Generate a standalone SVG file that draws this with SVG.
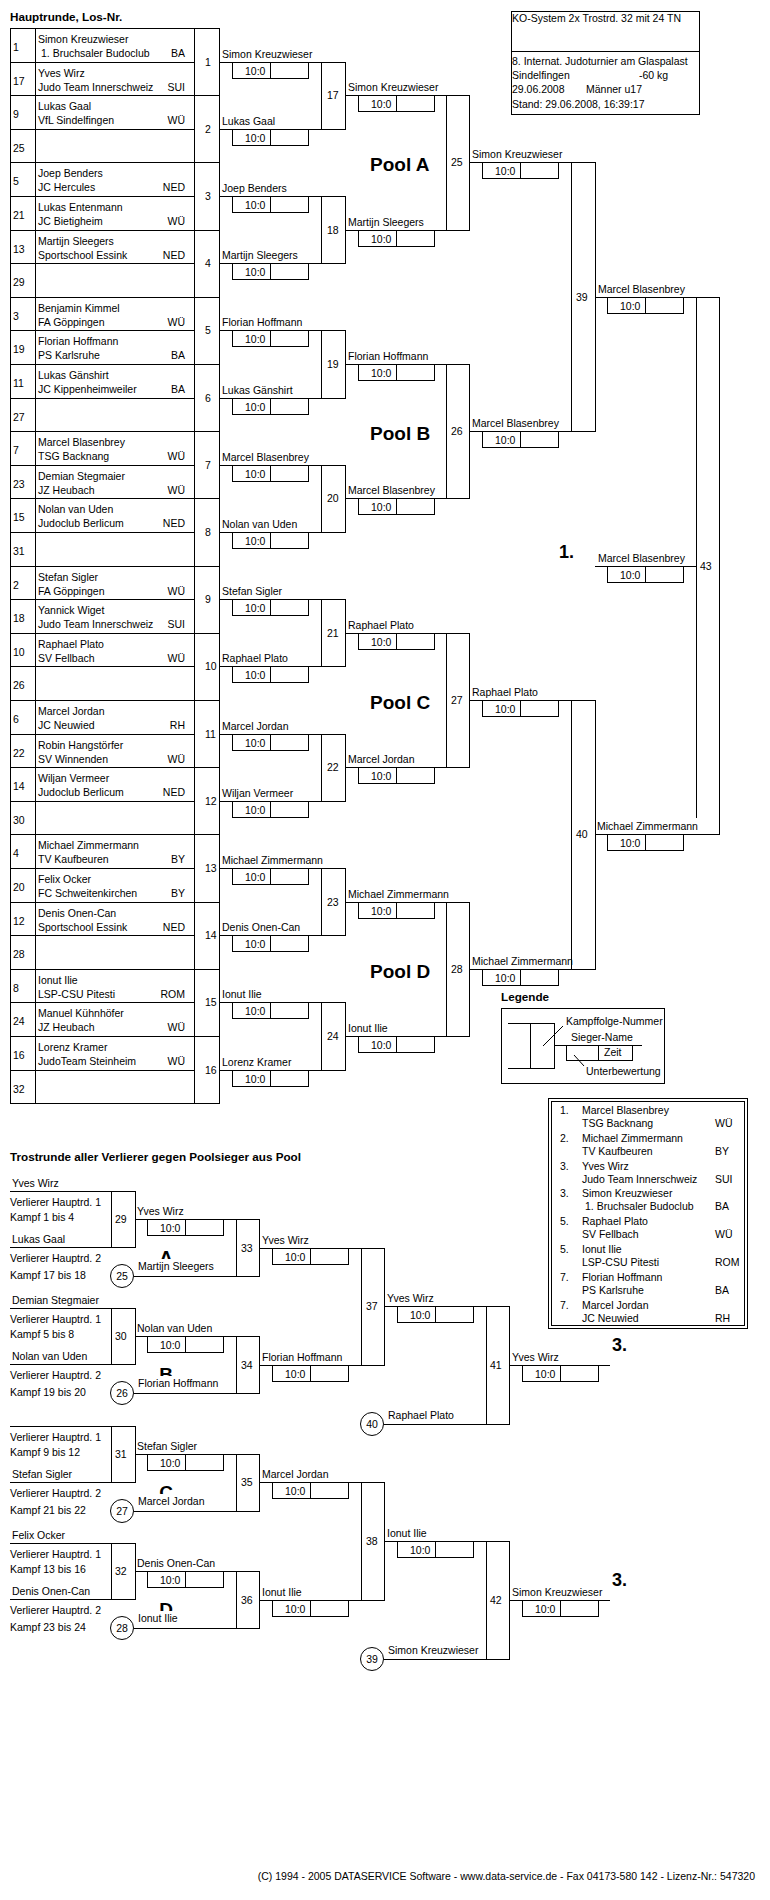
<svg xmlns="http://www.w3.org/2000/svg" xmlns:xlink="http://www.w3.org/1999/xlink" width="770" height="1900" viewBox="0 0 770 1900">
<style>
text{font-family:"Liberation Sans",Arial,Helvetica,sans-serif;font-size:10.5px;fill:#000}
.h{font-size:11.7px;font-weight:bold}
.pool{font-size:19px;font-weight:bold}
.big{font-size:18px;font-weight:bold}
.let{font-size:19px;font-weight:bold}
.c{text-anchor:middle}
.r{text-anchor:end}
.ln{stroke:#000;stroke-width:1;fill:none;shape-rendering:crispEdges}
.ci{stroke:#000;stroke-width:1;fill:#fff}
</style>
<defs>
<g id="sc"><rect class="ln" x="0" y="0" width="76" height="16"/><path class="ln" d="M38 0V16"/><text x="13" y="13">10:0</text></g>
<g id="sc2"><rect class="ln" x="0" y="0" width="66" height="15"/><path class="ln" d="M32 0V15"/></g>
<clipPath id="clipL" clipPathUnits="userSpaceOnUse"><rect x="140" y="40" width="60" height="28"/></clipPath>
</defs>
<rect width="770" height="1900" fill="#fff"/>

<text class="h" x="10" y="21">Hauptrunde, Los-Nr.</text>

<g id="header">
<rect class="ln" x="511" y="11" width="188" height="103"/>
<path class="ln" d="M511 51H699"/>
<text x="512" y="22">KO-System 2x Trostrd. 32 mit 24 TN</text>
<text x="512" y="65">8. Internat. Judoturnier am Glaspalast</text>
<text x="512" y="79">Sindelfingen</text>
<text x="639" y="79">-60 kg</text>
<text x="512" y="93">29.06.2008<tspan x="586">Männer u17</tspan></text>
<text x="512" y="108">Stand: 29.06.2008, 16:39:17</text>
</g>

<g id="draw-table">
<rect class="ln" x="10" y="28" width="209" height="1075"/>
<path class="ln" d="M35 28V1103M194 28V1103"/>
<path class="ln" d="M10 62H194M10 95H219M10 129H194M10 162H219M10 196H194M10 230H219M10 263H194M10 297H219M10 330H194M10 364H219M10 398H194M10 431H219M10 465H194M10 498H219M10 532H194M10 566H219M10 599H194M10 633H219M10 666H194M10 700H219M10 734H194M10 767H219M10 801H194M10 834H219M10 868H194M10 902H219M10 935H194M10 969H219M10 1002H194M10 1036H219M10 1070H194"/>
</g>

<g id="p1" transform="translate(0,28)"><text x="13" y="23">1</text><text x="38" y="15">Simon Kreuzwieser</text><text x="41" y="29">1. Bruchsaler Budoclub</text><text class="r" x="185" y="29">BA</text></g>
<g id="p17" transform="translate(0,61.6)"><text x="13" y="23">17</text><text x="38" y="15">Yves Wirz</text><text x="38" y="29">Judo Team Innerschweiz</text><text class="r" x="185" y="29">SUI</text></g>
<g id="p9" transform="translate(0,95.2)"><text x="13" y="23">9</text><text x="38" y="15">Lukas Gaal</text><text x="38" y="29">VfL Sindelfingen</text><text class="r" x="185" y="29">WÜ</text></g>
<g id="p25" transform="translate(0,128.8)"><text x="13" y="23">25</text></g>
<g id="p5" transform="translate(0,162.4)"><text x="13" y="23">5</text><text x="38" y="15">Joep Benders</text><text x="38" y="29">JC Hercules</text><text class="r" x="185" y="29">NED</text></g>
<g id="p21" transform="translate(0,196)"><text x="13" y="23">21</text><text x="38" y="15">Lukas Entenmann</text><text x="38" y="29">JC Bietigheim</text><text class="r" x="185" y="29">WÜ</text></g>
<g id="p13" transform="translate(0,229.6)"><text x="13" y="23">13</text><text x="38" y="15">Martijn Sleegers</text><text x="38" y="29">Sportschool Essink</text><text class="r" x="185" y="29">NED</text></g>
<g id="p29" transform="translate(0,263.2)"><text x="13" y="23">29</text></g>
<g id="p3" transform="translate(0,296.8)"><text x="13" y="23">3</text><text x="38" y="15">Benjamin Kimmel</text><text x="38" y="29">FA Göppingen</text><text class="r" x="185" y="29">WÜ</text></g>
<g id="p19" transform="translate(0,330.4)"><text x="13" y="23">19</text><text x="38" y="15">Florian Hoffmann</text><text x="38" y="29">PS Karlsruhe</text><text class="r" x="185" y="29">BA</text></g>
<g id="p11" transform="translate(0,364)"><text x="13" y="23">11</text><text x="38" y="15">Lukas Gänshirt</text><text x="38" y="29">JC Kippenheimweiler</text><text class="r" x="185" y="29">BA</text></g>
<g id="p27" transform="translate(0,397.6)"><text x="13" y="23">27</text></g>
<g id="p7" transform="translate(0,431.2)"><text x="13" y="23">7</text><text x="38" y="15">Marcel Blasenbrey</text><text x="38" y="29">TSG Backnang</text><text class="r" x="185" y="29">WÜ</text></g>
<g id="p23" transform="translate(0,464.8)"><text x="13" y="23">23</text><text x="38" y="15">Demian Stegmaier</text><text x="38" y="29">JZ Heubach</text><text class="r" x="185" y="29">WÜ</text></g>
<g id="p15" transform="translate(0,498.4)"><text x="13" y="23">15</text><text x="38" y="15">Nolan van Uden</text><text x="38" y="29">Judoclub Berlicum</text><text class="r" x="185" y="29">NED</text></g>
<g id="p31" transform="translate(0,532)"><text x="13" y="23">31</text></g>
<g id="p2" transform="translate(0,565.6)"><text x="13" y="23">2</text><text x="38" y="15">Stefan Sigler</text><text x="38" y="29">FA Göppingen</text><text class="r" x="185" y="29">WÜ</text></g>
<g id="p18" transform="translate(0,599.2)"><text x="13" y="23">18</text><text x="38" y="15">Yannick Wiget</text><text x="38" y="29">Judo Team Innerschweiz</text><text class="r" x="185" y="29">SUI</text></g>
<g id="p10" transform="translate(0,632.8)"><text x="13" y="23">10</text><text x="38" y="15">Raphael Plato</text><text x="38" y="29">SV Fellbach</text><text class="r" x="185" y="29">WÜ</text></g>
<g id="p26" transform="translate(0,666.4)"><text x="13" y="23">26</text></g>
<g id="p6" transform="translate(0,700)"><text x="13" y="23">6</text><text x="38" y="15">Marcel Jordan</text><text x="38" y="29">JC Neuwied</text><text class="r" x="185" y="29">RH</text></g>
<g id="p22" transform="translate(0,733.6)"><text x="13" y="23">22</text><text x="38" y="15">Robin Hangstörfer</text><text x="38" y="29">SV Winnenden</text><text class="r" x="185" y="29">WÜ</text></g>
<g id="p14" transform="translate(0,767.2)"><text x="13" y="23">14</text><text x="38" y="15">Wiljan Vermeer</text><text x="38" y="29">Judoclub Berlicum</text><text class="r" x="185" y="29">NED</text></g>
<g id="p30" transform="translate(0,800.8)"><text x="13" y="23">30</text></g>
<g id="p4" transform="translate(0,834.4)"><text x="13" y="23">4</text><text x="38" y="15">Michael Zimmermann</text><text x="38" y="29">TV Kaufbeuren</text><text class="r" x="185" y="29">BY</text></g>
<g id="p20" transform="translate(0,868)"><text x="13" y="23">20</text><text x="38" y="15">Felix Ocker</text><text x="38" y="29">FC Schweitenkirchen</text><text class="r" x="185" y="29">BY</text></g>
<g id="p12" transform="translate(0,901.6)"><text x="13" y="23">12</text><text x="38" y="15">Denis Onen-Can</text><text x="38" y="29">Sportschool Essink</text><text class="r" x="185" y="29">NED</text></g>
<g id="p28" transform="translate(0,935.2)"><text x="13" y="23">28</text></g>
<g id="p8" transform="translate(0,968.8)"><text x="13" y="23">8</text><text x="38" y="15">Ionut Ilie</text><text x="38" y="29">LSP-CSU Pitesti</text><text class="r" x="185" y="29">ROM</text></g>
<g id="p24" transform="translate(0,1002.4)"><text x="13" y="23">24</text><text x="38" y="15">Manuel Kühnhöfer</text><text x="38" y="29">JZ Heubach</text><text class="r" x="185" y="29">WÜ</text></g>
<g id="p16" transform="translate(0,1036)"><text x="13" y="23">16</text><text x="38" y="15">Lorenz Kramer</text><text x="38" y="29">JudoTeam Steinheim</text><text class="r" x="185" y="29">WÜ</text></g>
<g id="p32" transform="translate(0,1069.6)"><text x="13" y="23">32</text></g>

<g id="connectors" class="ln">
<path d="M219 62H321M219 129H321M219 196H321M219 263H321M219 330H321M219 398H321M219 465H321M219 532H321M219 599H321M219 666H321M219 734H321M219 801H321M219 868H321M219 935H321M219 1002H321M219 1070H321"/>
<path d="M345 95H446M345 230H446M345 364H446M345 498H446M345 633H446M345 767H446M345 902H446M345 1036H446"/>
<path d="M469 162H571M469 431H571M469 700H571M469 969H571"/>
<path d="M595 297H696M595 834H696M595 566H696"/>
<path d="M135 1219H236M133.5 1276H236M135 1336H236M133.5 1393H236M135 1454H236M133.5 1511H236M135 1571H236M133.5 1628H236"/>
<path d="M259 1248H361M259 1365H361M259 1482H361M259 1600H361"/>
<path d="M384 1306H486M384 1541H486M383.5 1424H486M383.5 1659H486"/>
<path d="M509 1365H610M509 1600H610"/>
</g>

<g id="m1"><text x="205" y="66">1</text><g transform="translate(219,62)"><text x="3" y="-4">Simon Kreuzwieser</text><use xlink:href="#sc" x="13"/></g></g>
<g id="m2"><text x="205" y="133">2</text><g transform="translate(219,129)"><text x="3" y="-4">Lukas Gaal</text><use xlink:href="#sc" x="13"/></g></g>
<g id="m3"><text x="205" y="200">3</text><g transform="translate(219,196)"><text x="3" y="-4">Joep Benders</text><use xlink:href="#sc" x="13"/></g></g>
<g id="m4"><text x="205" y="267">4</text><g transform="translate(219,263)"><text x="3" y="-4">Martijn Sleegers</text><use xlink:href="#sc" x="13"/></g></g>
<g id="m5"><text x="205" y="334">5</text><g transform="translate(219,330)"><text x="3" y="-4">Florian Hoffmann</text><use xlink:href="#sc" x="13"/></g></g>
<g id="m6"><text x="205" y="402">6</text><g transform="translate(219,398)"><text x="3" y="-4">Lukas Gänshirt</text><use xlink:href="#sc" x="13"/></g></g>
<g id="m7"><text x="205" y="469">7</text><g transform="translate(219,465)"><text x="3" y="-4">Marcel Blasenbrey</text><use xlink:href="#sc" x="13"/></g></g>
<g id="m8"><text x="205" y="536">8</text><g transform="translate(219,532)"><text x="3" y="-4">Nolan van Uden</text><use xlink:href="#sc" x="13"/></g></g>
<g id="m9"><text x="205" y="603">9</text><g transform="translate(219,599)"><text x="3" y="-4">Stefan Sigler</text><use xlink:href="#sc" x="13"/></g></g>
<g id="m10"><text x="205" y="670">10</text><g transform="translate(219,666)"><text x="3" y="-4">Raphael Plato</text><use xlink:href="#sc" x="13"/></g></g>
<g id="m11"><text x="205" y="738">11</text><g transform="translate(219,734)"><text x="3" y="-4">Marcel Jordan</text><use xlink:href="#sc" x="13"/></g></g>
<g id="m12"><text x="205" y="805">12</text><g transform="translate(219,801)"><text x="3" y="-4">Wiljan Vermeer</text><use xlink:href="#sc" x="13"/></g></g>
<g id="m13"><text x="205" y="872">13</text><g transform="translate(219,868)"><text x="3" y="-4">Michael Zimmermann</text><use xlink:href="#sc" x="13"/></g></g>
<g id="m14"><text x="205" y="939">14</text><g transform="translate(219,935)"><text x="3" y="-4">Denis Onen-Can</text><use xlink:href="#sc" x="13"/></g></g>
<g id="m15"><text x="205" y="1006">15</text><g transform="translate(219,1002)"><text x="3" y="-4">Ionut Ilie</text><use xlink:href="#sc" x="13"/></g></g>
<g id="m16"><text x="205" y="1074">16</text><g transform="translate(219,1070)"><text x="3" y="-4">Lorenz Kramer</text><use xlink:href="#sc" x="13"/></g></g>

<g id="m17"><rect class="ln" x="321" y="62" width="24" height="67"/><text x="327" y="99">17</text><g transform="translate(345,95)"><text x="3" y="-4">Simon Kreuzwieser</text><use xlink:href="#sc" x="13"/></g></g>
<g id="m18"><rect class="ln" x="321" y="196" width="24" height="67"/><text x="327" y="234">18</text><g transform="translate(345,230)"><text x="3" y="-4">Martijn Sleegers</text><use xlink:href="#sc" x="13"/></g></g>
<g id="m19"><rect class="ln" x="321" y="330" width="24" height="68"/><text x="327" y="368">19</text><g transform="translate(345,364)"><text x="3" y="-4">Florian Hoffmann</text><use xlink:href="#sc" x="13"/></g></g>
<g id="m20"><rect class="ln" x="321" y="465" width="24" height="67"/><text x="327" y="502">20</text><g transform="translate(345,498)"><text x="3" y="-4">Marcel Blasenbrey</text><use xlink:href="#sc" x="13"/></g></g>
<g id="m21"><rect class="ln" x="321" y="599" width="24" height="67"/><text x="327" y="637">21</text><g transform="translate(345,633)"><text x="3" y="-4">Raphael Plato</text><use xlink:href="#sc" x="13"/></g></g>
<g id="m22"><rect class="ln" x="321" y="734" width="24" height="67"/><text x="327" y="771">22</text><g transform="translate(345,767)"><text x="3" y="-4">Marcel Jordan</text><use xlink:href="#sc" x="13"/></g></g>
<g id="m23"><rect class="ln" x="321" y="868" width="24" height="67"/><text x="327" y="906">23</text><g transform="translate(345,902)"><text x="3" y="-4">Michael Zimmermann</text><use xlink:href="#sc" x="13"/></g></g>
<g id="m24"><rect class="ln" x="321" y="1002" width="24" height="68"/><text x="327" y="1040">24</text><g transform="translate(345,1036)"><text x="3" y="-4">Ionut Ilie</text><use xlink:href="#sc" x="13"/></g></g>

<g id="m25"><rect class="ln" x="446" y="95" width="23" height="135"/><text x="451" y="166">25</text><g transform="translate(469,162)"><text x="3" y="-4">Simon Kreuzwieser</text><use xlink:href="#sc" x="13"/></g></g>
<g id="m26"><rect class="ln" x="446" y="364" width="23" height="134"/><text x="451" y="435">26</text><g transform="translate(469,431)"><text x="3" y="-4">Marcel Blasenbrey</text><use xlink:href="#sc" x="13"/></g></g>
<g id="m27"><rect class="ln" x="446" y="633" width="23" height="134"/><text x="451" y="704">27</text><g transform="translate(469,700)"><text x="3" y="-4">Raphael Plato</text><use xlink:href="#sc" x="13"/></g></g>
<g id="m28"><rect class="ln" x="446" y="902" width="23" height="134"/><text x="451" y="973">28</text><g transform="translate(469,969)"><text x="3" y="-4">Michael Zimmermann</text><use xlink:href="#sc" x="13"/></g></g>

<g id="pools">
<text class="pool" x="370" y="171">Pool A</text>
<text class="pool" x="370" y="440">Pool B</text>
<text class="pool" x="370" y="709">Pool C</text>
<text class="pool" x="370" y="978">Pool D</text>
</g>

<g id="m39"><rect class="ln" x="571" y="162" width="24" height="269"/><text x="576" y="301">39</text><g transform="translate(595,297)"><text x="3" y="-4">Marcel Blasenbrey</text><use xlink:href="#sc" x="12"/></g></g>
<g id="m40"><rect class="ln" x="571" y="700" width="24" height="269"/><text x="576" y="838">40</text><g transform="translate(595,834)"><text x="2" y="-4">Michael Zimmermann</text><use xlink:href="#sc" x="12"/></g></g>

<g id="m43"><path class="ln" d="M696 818V297H719V834H696"/><text x="700" y="570">43</text><g transform="translate(595,566)"><text x="3" y="-4">Marcel Blasenbrey</text><use xlink:href="#sc" x="12"/></g><text class="big" x="559" y="558">1.</text></g>

<g id="legend">
<text class="h" x="501" y="1001">Legende</text>
<rect class="ln" x="501" y="1008" width="163" height="75"/>
<path class="ln" d="M508 1023H554M508 1068H530M554 1045H642"/>
<rect class="ln" x="530" y="1023" width="24" height="45"/>
<use xlink:href="#sc2" x="566" y="1045"/>
<text x="604" y="1056">Zeit</text>
<text x="571" y="1041">Sieger-Name</text>
<text x="566" y="1025">Kampffolge-Nummer</text>
<text x="586" y="1075">Unterbewertung</text>
<path stroke="#000" stroke-width="1" fill="none" d="M543 1046L563 1026M574 1055L584 1066"/>
</g>

<g id="ranking">
<rect class="ln" x="548" y="1098" width="199" height="230"/>
<rect class="ln" x="551" y="1101" width="193" height="224"/>
<text x="560" y="1114">1.</text><text x="582" y="1114">Marcel Blasenbrey</text><text x="582" y="1127">TSG Backnang</text><text x="715" y="1127">WÜ</text>
<text x="560" y="1141.8">2.</text><text x="582" y="1141.8">Michael Zimmermann</text><text x="582" y="1154.8">TV Kaufbeuren</text><text x="715" y="1154.8">BY</text>
<text x="560" y="1169.6">3.</text><text x="582" y="1169.6">Yves Wirz</text><text x="582" y="1182.6">Judo Team Innerschweiz</text><text x="715" y="1182.6">SUI</text>
<text x="560" y="1197.4">3.</text><text x="582" y="1197.4">Simon Kreuzwieser</text><text x="585" y="1210.4">1. Bruchsaler Budoclub</text><text x="715" y="1210.4">BA</text>
<text x="560" y="1225.2">5.</text><text x="582" y="1225.2">Raphael Plato</text><text x="582" y="1238.2">SV Fellbach</text><text x="715" y="1238.2">WÜ</text>
<text x="560" y="1253">5.</text><text x="582" y="1253">Ionut Ilie</text><text x="582" y="1266">LSP-CSU Pitesti</text><text x="715" y="1266">ROM</text>
<text x="560" y="1280.8">7.</text><text x="582" y="1280.8">Florian Hoffmann</text><text x="582" y="1293.8">PS Karlsruhe</text><text x="715" y="1293.8">BA</text>
<text x="560" y="1308.6">7.</text><text x="582" y="1308.6">Marcel Jordan</text><text x="582" y="1321.6">JC Neuwied</text><text x="715" y="1321.6">RH</text>
</g>

<text class="h" x="10" y="1161">Trostrunde aller Verlierer gegen Poolsieger aus Pool</text>

<g id="m29" transform="translate(0,1191)">
<text x="12" y="-4">Yves Wirz</text>
<path class="ln" d="M10 0H135M10 56H135"/>
<rect class="ln" x="111" y="0" width="24" height="56"/>
<text x="115" y="32">29</text>
<text x="10" y="15">Verlierer Hauptrd. 1</text><text x="10" y="30">Kampf 1 bis 4</text>
<text x="12" y="52">Lukas Gaal</text>
<text x="10" y="71">Verlierer Hauptrd. 2</text><text x="10" y="88">Kampf 17 bis 18</text>
<circle class="ci" cx="122" cy="85" r="11.5"/><text class="c" x="122" y="89">25</text>
<g transform="translate(135,28)"><text x="2" y="-4">Yves Wirz</text><use xlink:href="#sc" x="12"/></g>
<text class="let c" x="166" y="73" clip-path="url(#clipL)">A</text>
<text x="138" y="79">Martijn Sleegers</text>
</g>
<g id="m30" transform="translate(0,1308)">
<text x="12" y="-4">Demian Stegmaier</text>
<path class="ln" d="M10 0H135M10 56H135"/>
<rect class="ln" x="111" y="0" width="24" height="56"/>
<text x="115" y="32">30</text>
<text x="10" y="15">Verlierer Hauptrd. 1</text><text x="10" y="30">Kampf 5 bis 8</text>
<text x="12" y="52">Nolan van Uden</text>
<text x="10" y="71">Verlierer Hauptrd. 2</text><text x="10" y="88">Kampf 19 bis 20</text>
<circle class="ci" cx="122" cy="85" r="11.5"/><text class="c" x="122" y="89">26</text>
<g transform="translate(135,28)"><text x="2" y="-4">Nolan van Uden</text><use xlink:href="#sc" x="12"/></g>
<text class="let c" x="166" y="73" clip-path="url(#clipL)">B</text>
<text x="138" y="79">Florian Hoffmann</text>
</g>
<g id="m31" transform="translate(0,1426)">
<path class="ln" d="M10 0H135M10 56H135"/>
<rect class="ln" x="111" y="0" width="24" height="56"/>
<text x="115" y="32">31</text>
<text x="10" y="15">Verlierer Hauptrd. 1</text><text x="10" y="30">Kampf 9 bis 12</text>
<text x="12" y="52">Stefan Sigler</text>
<text x="10" y="71">Verlierer Hauptrd. 2</text><text x="10" y="88">Kampf 21 bis 22</text>
<circle class="ci" cx="122" cy="85" r="11.5"/><text class="c" x="122" y="89">27</text>
<g transform="translate(135,28)"><text x="2" y="-4">Stefan Sigler</text><use xlink:href="#sc" x="12"/></g>
<text class="let c" x="166" y="73" clip-path="url(#clipL)">C</text>
<text x="138" y="79">Marcel Jordan</text>
</g>
<g id="m32" transform="translate(0,1543)">
<text x="12" y="-4">Felix Ocker</text>
<path class="ln" d="M10 0H135M10 56H135"/>
<rect class="ln" x="111" y="0" width="24" height="56"/>
<text x="115" y="32">32</text>
<text x="10" y="15">Verlierer Hauptrd. 1</text><text x="10" y="30">Kampf 13 bis 16</text>
<text x="12" y="52">Denis Onen-Can</text>
<text x="10" y="71">Verlierer Hauptrd. 2</text><text x="10" y="88">Kampf 23 bis 24</text>
<circle class="ci" cx="122" cy="85" r="11.5"/><text class="c" x="122" y="89">28</text>
<g transform="translate(135,28)"><text x="2" y="-4">Denis Onen-Can</text><use xlink:href="#sc" x="12"/></g>
<text class="let c" x="166" y="73" clip-path="url(#clipL)">D</text>
<text x="138" y="79">Ionut Ilie</text>
</g>

<g id="m33"><rect class="ln" x="236" y="1219" width="23" height="57"/><text x="241" y="1252">33</text><g transform="translate(259,1248)"><text x="3" y="-4">Yves Wirz</text><use xlink:href="#sc" x="13"/></g></g>
<g id="m34"><rect class="ln" x="236" y="1336" width="23" height="57"/><text x="241" y="1369">34</text><g transform="translate(259,1365)"><text x="3" y="-4">Florian Hoffmann</text><use xlink:href="#sc" x="13"/></g></g>
<g id="m35"><rect class="ln" x="236" y="1454" width="23" height="57"/><text x="241" y="1486">35</text><g transform="translate(259,1482)"><text x="3" y="-4">Marcel Jordan</text><use xlink:href="#sc" x="13"/></g></g>
<g id="m36"><rect class="ln" x="236" y="1571" width="23" height="57"/><text x="241" y="1604">36</text><g transform="translate(259,1600)"><text x="3" y="-4">Ionut Ilie</text><use xlink:href="#sc" x="13"/></g></g>

<g id="m37"><rect class="ln" x="361" y="1248" width="23" height="117"/><text x="366" y="1310">37</text><g transform="translate(384,1306)"><text x="3" y="-4">Yves Wirz</text><use xlink:href="#sc" x="13"/></g></g>
<g id="m38"><rect class="ln" x="361" y="1482" width="23" height="118"/><text x="366" y="1545">38</text><g transform="translate(384,1541)"><text x="3" y="-4">Ionut Ilie</text><use xlink:href="#sc" x="13"/></g></g>

<g id="c40"><circle class="ci" cx="372" cy="1424" r="11.5"/><text class="c" x="372" y="1428">40</text><text x="388" y="1419">Raphael Plato</text></g>
<g id="c39"><circle class="ci" cx="372" cy="1659" r="11.5"/><text class="c" x="372" y="1663">39</text><text x="388" y="1654">Simon Kreuzwieser</text></g>

<g id="m41"><rect class="ln" x="486" y="1306" width="23" height="118"/><text x="490" y="1369">41</text><g transform="translate(509,1365)"><text x="3" y="-4">Yves Wirz</text><use xlink:href="#sc" x="13"/></g><text class="big" x="612" y="1351">3.</text></g>
<g id="m42"><rect class="ln" x="486" y="1541" width="23" height="118"/><text x="490" y="1604">42</text><g transform="translate(509,1600)"><text x="3" y="-4">Simon Kreuzwieser</text><use xlink:href="#sc" x="13"/></g><text class="big" x="612" y="1586">3.</text></g>

<text class="r" x="755" y="1880">(C) 1994 - 2005 DATASERVICE Software - www.data-service.de - Fax 04173-580 142 - Lizenz-Nr.: 547320</text>
</svg>
